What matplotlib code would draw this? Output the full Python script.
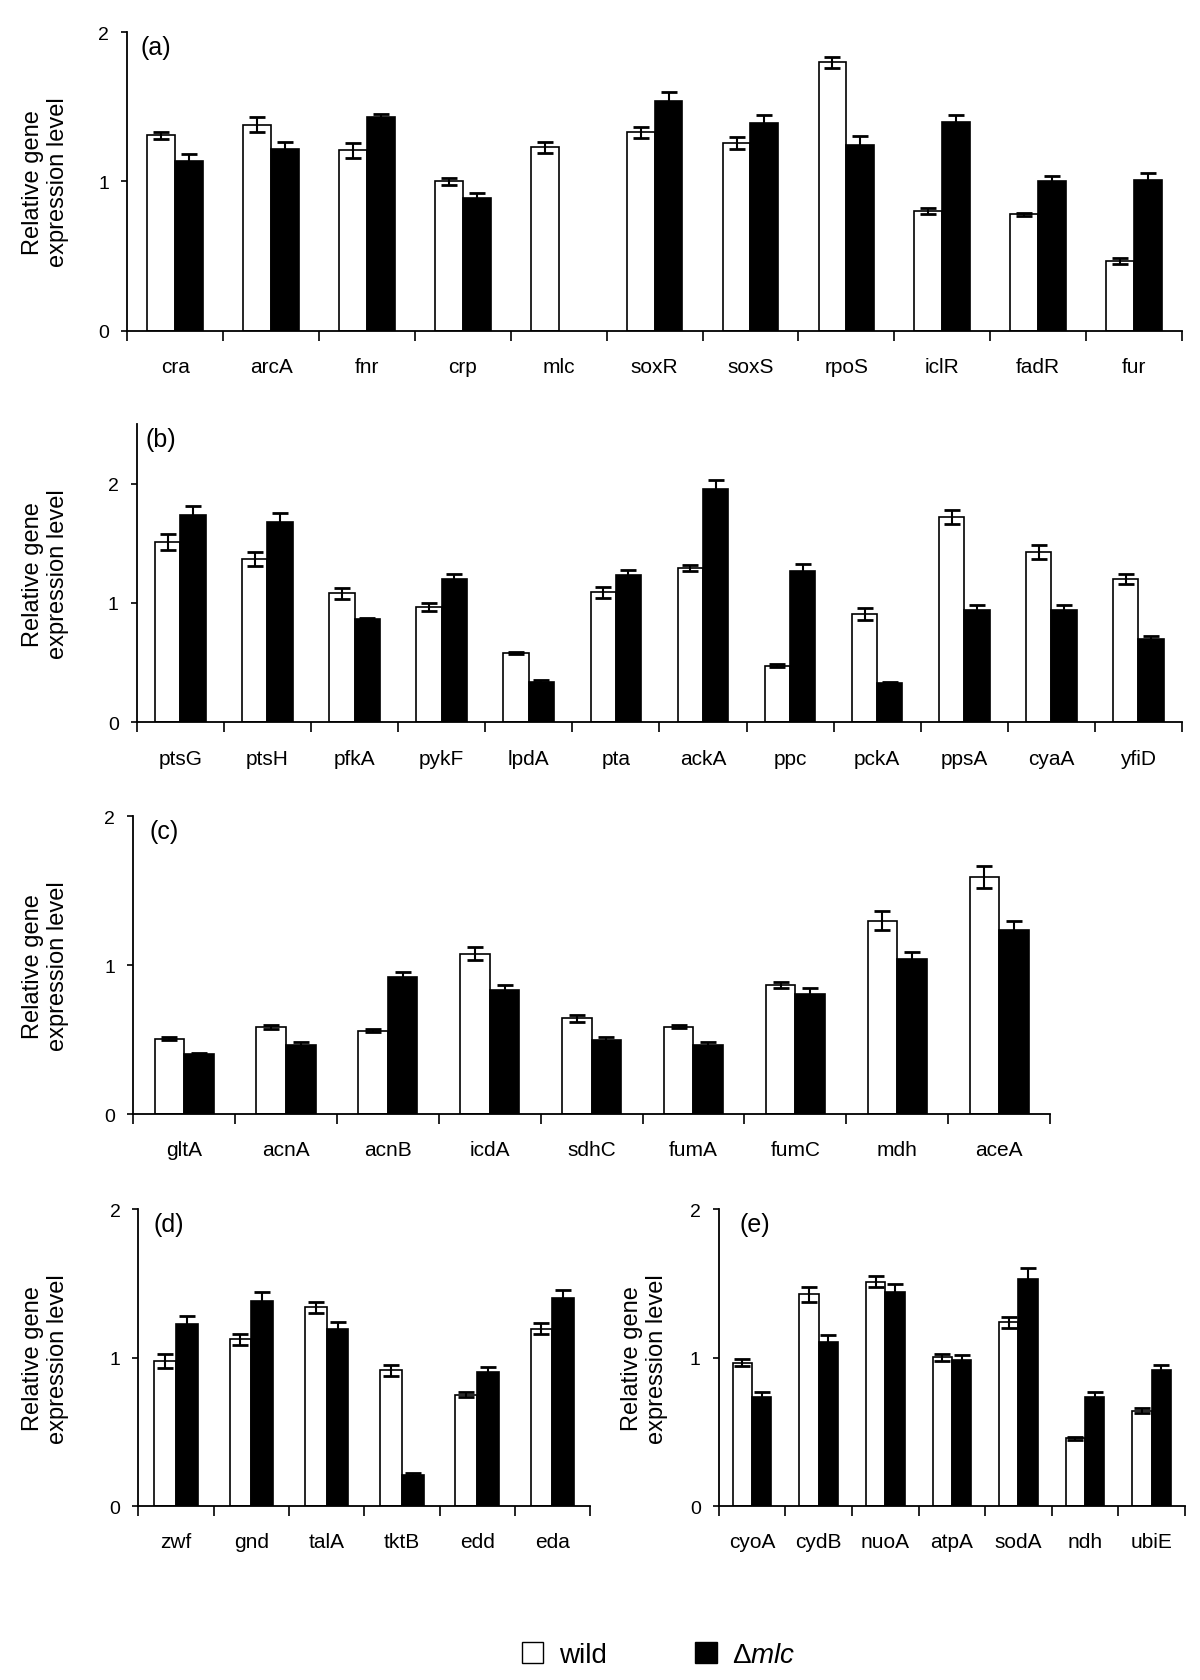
import matplotlib
matplotlib.use("Agg")
import matplotlib.pyplot as plt
from matplotlib.patches import Patch
import numpy as np

plt.rcParams['font.family'] = ['Liberation Sans', 'DejaVu Sans']
plt.rcParams['mathtext.fontset'] = 'custom'
plt.rcParams['mathtext.it'] = 'Liberation Sans:italic'
plt.rcParams['mathtext.rm'] = 'Liberation Sans'

# (a) regulators
genes_a = ['cra', 'arcA', 'fnr', 'crp', 'mlc', 'soxR', 'soxS', 'rpoS', 'iclR', 'fadR', 'fur']
wild_a = [1.31, 1.38, 1.21, 1.00, 1.23, 1.33, 1.26, 1.80, 0.80, 0.78, 0.47]
wild_err_a = [0.022, 0.05, 0.05, 0.022, 0.036, 0.038, 0.04, 0.037, 0.02, 0.01, 0.02]
mlc_a = [1.135, 1.22, 1.43, 0.887, np.nan, 1.54, 1.39, 1.247, 1.40, 1.00, 1.01]
mlc_err_a = [0.047, 0.047, 0.022, 0.038, np.nan, 0.06, 0.056, 0.058, 0.045, 0.038, 0.047]

# (b) glycolysis etc.
genes_b = ['ptsG', 'ptsH', 'pfkA', 'pykF', 'lpdA', 'pta', 'ackA', 'ppc', 'pckA', 'ppsA', 'cyaA', 'yfiD']
wild_b = [1.51, 1.37, 1.08, 0.965, 0.58, 1.09, 1.29, 0.474, 0.907, 1.72, 1.43, 1.20]
wild_err_b = [0.07, 0.056, 0.047, 0.032, 0.01, 0.047, 0.025, 0.014, 0.047, 0.057, 0.059, 0.04]
mlc_b = [1.74, 1.68, 0.867, 1.20, 0.34, 1.233, 1.955, 1.264, 0.329, 0.943, 0.943, 0.697]
mlc_err_b = [0.072, 0.072, 0.011, 0.045, 0.014, 0.042, 0.075, 0.059, 0.011, 0.042, 0.042, 0.028]

# (c) TCA cycle
genes_c = ['gltA', 'acnA', 'acnB', 'icdA', 'sdhC', 'fumA', 'fumC', 'mdh', 'aceA']
wild_c = [0.506, 0.585, 0.558, 1.077, 0.643, 0.585, 0.867, 1.297, 1.595]
wild_err_c = [0.01, 0.012, 0.01, 0.045, 0.025, 0.01, 0.02, 0.064, 0.074]
mlc_c = [0.401, 0.464, 0.918, 0.833, 0.497, 0.464, 0.808, 1.041, 1.239]
mlc_err_c = [0.009, 0.022, 0.036, 0.036, 0.022, 0.02, 0.036, 0.049, 0.056]

# (d) pentose phosphate / ED pathway
genes_d = ['zwf', 'gnd', 'talA', 'tktB', 'edd', 'eda']
wild_d = [0.979, 1.124, 1.339, 0.915, 0.752, 1.197]
wild_err_d = [0.046, 0.036, 0.04, 0.039, 0.017, 0.04]
mlc_d = [1.229, 1.381, 1.193, 0.209, 0.906, 1.404]
mlc_err_d = [0.05, 0.06, 0.048, 0.011, 0.034, 0.05]

# (e) respiration
genes_e = ['cyoA', 'cydB', 'nuoA', 'atpA', 'sodA', 'ndh', 'ubiE']
wild_e = [0.966, 1.427, 1.514, 1.002, 1.239, 0.456, 0.644]
wild_err_e = [0.025, 0.05, 0.04, 0.024, 0.039, 0.01, 0.02]
mlc_e = [0.732, 1.106, 1.443, 0.982, 1.53, 0.732, 0.917]
mlc_err_e = [0.034, 0.048, 0.057, 0.037, 0.073, 0.034, 0.037]

W, H = 1200, 1681
fig = plt.figure(figsize=(W / 100, H / 100), dpi=100)


def draw_panel(rect, genes, wild, wild_err, mlc, mlc_err, label, ymax, lab_x):
    ax = fig.add_axes(rect)
    x = np.arange(len(genes))
    bw = 0.29
    ax.bar(x - bw / 2, wild, bw, color='white', edgecolor='black', linewidth=1.2, zorder=2)
    ax.bar(x + bw / 2, mlc, bw, color='black', edgecolor='black', linewidth=1.2, zorder=2)
    ax.errorbar(x - bw / 2, wild, yerr=wild_err, fmt='none', ecolor='black',
                elinewidth=1.5, capsize=5.5, capthick=2, zorder=3)
    ax.errorbar(x + bw / 2, mlc, yerr=mlc_err, fmt='none', ecolor='black',
                elinewidth=1.5, capsize=5.5, capthick=2, zorder=1)
    ax.set_xlim(-0.5, len(genes) - 0.5)
    ax.set_ylim(0, ymax)
    ax.set_yticks([0, 1, 2])
    ax.set_xticks(np.arange(len(genes) + 1) - 0.5)
    ax.set_xticklabels([])
    ax.set_xticks(x, minor=True)
    ax.set_xticklabels(genes, minor=True, fontsize=15)
    ax.tick_params(axis='x', which='major', direction='out', length=7, width=1.2)
    ax.tick_params(axis='x', which='minor', length=0, pad=19)
    ax.tick_params(axis='y', direction='out', length=4, width=1.2, labelsize=14, pad=9)
    for s in ['top', 'right']:
        ax.spines[s].set_visible(False)
    for s in ['left', 'bottom']:
        ax.spines[s].set_linewidth(1.3)
    ax.text(lab_x, 0.95, label, transform=ax.transAxes,
            fontsize=18, va='center', ha='left')
    cy = rect[1] + rect[3] / 2
    return ax, cy


ax_a, cy_a = draw_panel([0.106, 0.8027, 0.879, 0.1775], genes_a, wild_a, wild_err_a,
                        mlc_a, mlc_err_a, '(a)', 2.0, 0.013)
ax_b, cy_b = draw_panel([0.114, 0.5697, 0.871, 0.1775], genes_b, wild_b, wild_err_b,
                        mlc_b, mlc_err_b, '(b)', 2.5, 0.008)
ax_c, cy_c = draw_panel([0.111, 0.3367, 0.764, 0.1771], genes_c, wild_c, wild_err_c,
                        mlc_c, mlc_err_c, '(c)', 2.0, 0.018)
ax_d, cy_d = draw_panel([0.1154, 0.1035, 0.3763, 0.1764], genes_d, wild_d, wild_err_d,
                        mlc_d, mlc_err_d, '(d)', 2.0, 0.034)
ax_e, cy_e = draw_panel([0.599, 0.1035, 0.3885, 0.1764], genes_e, wild_e, wild_err_e,
                        mlc_e, mlc_err_e, '(e)', 2.0, 0.045)

ylab = 'Relative gene\nexpression level'
for xpos, cy in [(0.038, cy_a), (0.038, cy_b), (0.038, cy_c), (0.038, cy_d), (0.537, cy_e)]:
    fig.text(xpos, cy, ylab, rotation=90, ha='center', va='center', fontsize=17,
             linespacing=1.15)

handles = [Patch(facecolor='white', edgecolor='black', linewidth=1.0),
           Patch(facecolor='black', edgecolor='black')]
fig.legend(handles, ['wild', 'Δ$\\mathit{mlc}$'], loc='center', bbox_to_anchor=(0.549, 0.0149),
           ncol=2, frameon=False, fontsize=20, handlelength=0.76, handleheight=0.8,
           handletextpad=0.55, columnspacing=3.2)

fig.savefig('out.png', dpi=100)
